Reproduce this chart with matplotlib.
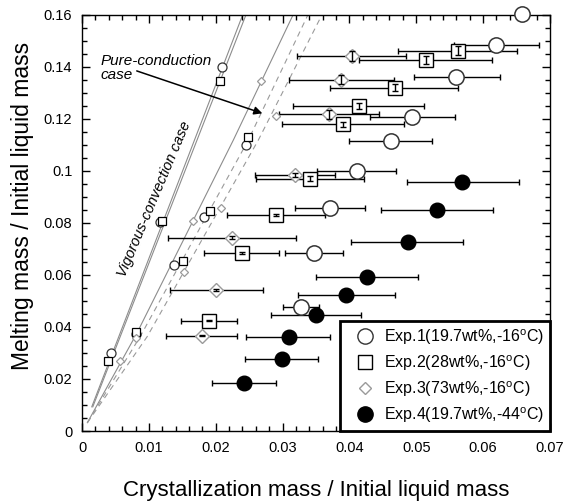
import matplotlib
matplotlib.use("Agg")
import matplotlib.pyplot as plt
from matplotlib.lines import Line2D
from matplotlib.ticker import MultipleLocator, FormatStrFormatter

plt.rcParams["font.family"] = ["Liberation Sans", "DejaVu Sans"]
plt.rcParams["mathtext.fontset"] = "custom"
plt.rcParams["mathtext.rm"] = "Liberation Sans"

# model curves
vig_a_x = [0.00145, 0.02404]
vig_a_y = [0.0093, 0.16]
vig_b_x = [0.00160, 0.02453]
vig_b_y = [0.0093, 0.16]
cond_x = [0.00079, 0.00818, 0.02263, 0.03160]
cond_y = [0.0032, 0.0375, 0.1118, 0.1601]
dash1_x = [0.00079, 0.00867, 0.02487, 0.0338]
dash1_y = [0.0032, 0.0362, 0.1118, 0.16]
dash2_x = [0.00079, 0.00972, 0.02637, 0.0359]
dash2_y = [0.0032, 0.0362, 0.1118, 0.16]

# small points lying on the curves
exp1_s_x = [0.0043, 0.0081, 0.0117, 0.0138, 0.0183, 0.0245, 0.0210]
exp1_s_y = [0.0301, 0.0371, 0.0802, 0.0637, 0.0821, 0.1101, 0.1400]
exp2_s_x = [0.0039, 0.0081, 0.0120, 0.0151, 0.0191, 0.0249, 0.0206]
exp2_s_y = [0.0270, 0.0381, 0.0807, 0.0653, 0.0846, 0.1131, 0.1346]
exp3_s_x = [0.0057, 0.0081, 0.0152, 0.0166, 0.0208, 0.0268, 0.0290]
exp3_s_y = [0.0269, 0.0356, 0.0610, 0.0807, 0.0859, 0.1346, 0.1211]

# measured points with error bars
exp1_x = [0.0659, 0.0620, 0.0560, 0.0494, 0.0462, 0.0411, 0.0371, 0.0347, 0.0328]
exp1_y = [0.1602, 0.1483, 0.1359, 0.1208, 0.1113, 0.0999, 0.0858, 0.0686, 0.0478]
exp1_xlo = [0.0659, 0.0557, 0.0496, 0.0431, 0.0400, 0.0352, 0.0318, 0.0303, 0.0301]
exp1_xhi = [0.0659, 0.0684, 0.0626, 0.0558, 0.0524, 0.0470, 0.0424, 0.0391, 0.0355]

exp2_x = [0.0562, 0.0514, 0.0468, 0.0414, 0.0390, 0.0341, 0.0290, 0.0239, 0.0190]
exp2_y = [0.1461, 0.1425, 0.1319, 0.1249, 0.1179, 0.0969, 0.0830, 0.0685, 0.0424]
exp2_xlo = [0.0472, 0.0415, 0.0371, 0.0315, 0.0299, 0.0260, 0.0217, 0.0183, 0.0148]
exp2_xhi = [0.0651, 0.0614, 0.0563, 0.0512, 0.0482, 0.0422, 0.0364, 0.0295, 0.0232]
exp2_yerr = [0.0017, 0.0015, 0.0013, 0.0010, 0.0010, 0.0010, 0.0005, 0.0003, 0.0002]

exp3_x = [0.0404, 0.0387, 0.0369, 0.0318, 0.0225, 0.0201, 0.0180]
exp3_y = [0.1441, 0.1351, 0.1217, 0.0983, 0.0743, 0.0542, 0.0366]
exp3_xlo = [0.0322, 0.0309, 0.0294, 0.0258, 0.0129, 0.0131, 0.0126]
exp3_xhi = [0.0485, 0.0466, 0.0445, 0.0379, 0.0320, 0.0271, 0.0232]
exp3_yerr = [0.0020, 0.0018, 0.0018, 0.0008, 0.0005, 0.0003, 0.0002]

exp4_x = [0.0569, 0.0531, 0.0487, 0.0427, 0.0395, 0.0350, 0.0309, 0.0299, 0.0242]
exp4_y = [0.0957, 0.0848, 0.0727, 0.0593, 0.0522, 0.0446, 0.0362, 0.0275, 0.0186]
exp4_xlo = [0.0486, 0.0448, 0.0402, 0.0350, 0.0323, 0.0283, 0.0245, 0.0244, 0.0195]
exp4_xhi = [0.0654, 0.0615, 0.0570, 0.0502, 0.0468, 0.0418, 0.0371, 0.0353, 0.0290]

labels = [r"Exp.1(19.7wt%,-16$^{\rm o}$C)", r"Exp.2(28wt%,-16$^{\rm o}$C)",
          r"Exp.3(73wt%,-16$^{\rm o}$C)", r"Exp.4(19.7wt%,-44$^{\rm o}$C)"]

GREY = "#8c8c8c"
DGREY = "#9a9a9a"

fig = plt.figure(figsize=(5.74, 5.04), dpi=100)
ax = fig.add_axes([0.143, 0.1448, 0.815, 0.826])

# curves
ax.plot(vig_a_x, vig_a_y, color=GREY, lw=0.8, zorder=1)
ax.plot(vig_b_x, vig_b_y, color=GREY, lw=0.8, zorder=1)
ax.plot(cond_x, cond_y, color=GREY, lw=0.8, zorder=1)
ax.plot(dash1_x, dash1_y, color=DGREY, lw=0.8, ls=(0, (5, 4)), zorder=1)
ax.plot(dash2_x, dash2_y, color=DGREY, lw=0.8, ls=(0, (5, 4)), zorder=1)

# small points on the curves
ax.plot(exp1_s_x, exp1_s_y, "o", ms=6.5, mfc="white", mec="#333333", mew=0.9, zorder=3)
ax.plot(exp2_s_x, exp2_s_y, "s", ms=6.3, mfc="white", mec="black", mew=0.9, zorder=3)
ax.plot(exp3_s_x, exp3_s_y, "D", ms=4.2, mfc="white", mec=DGREY, mew=0.9, zorder=3)


def hbars(x, y, lo, hi):
    err = [[a - b for a, b in zip(x, lo)], [b - a for a, b in zip(x, hi)]]
    ax.errorbar(x, y, xerr=err, fmt="none", ecolor="black", elinewidth=1.0,
                capsize=2.3, capthick=1.0, zorder=2)


hbars(exp1_x, exp1_y, exp1_xlo, exp1_xhi)
hbars(exp2_x, exp2_y, exp2_xlo, exp2_xhi)
hbars(exp3_x, exp3_y, exp3_xlo, exp3_xhi)
hbars(exp4_x, exp4_y, exp4_xlo, exp4_xhi)

ax.plot(exp1_x, exp1_y, "o", ms=11, mfc="white", mec="#333333", mew=1.1, zorder=3, clip_on=False)
ax.plot(exp2_x, exp2_y, "s", ms=9.6, mfc="white", mec="black", mew=1.0, zorder=3)
ax.plot(exp3_x, exp3_y, "D", ms=6.8, mfc="white", mec=DGREY, mew=1.0, zorder=3)
ax.plot(exp4_x, exp4_y, "o", ms=10.5, mfc="black", mec="black", zorder=3)

ax.errorbar(exp2_x, exp2_y, yerr=exp2_yerr, fmt="none", ecolor="black", elinewidth=1.0,
            capsize=2.2, capthick=1.0, zorder=4)
ax.errorbar(exp3_x, exp3_y, yerr=exp3_yerr, fmt="none", ecolor="black", elinewidth=1.0,
            capsize=2.2, capthick=1.0, zorder=4)

# annotations
ax.text(0.0027, 0.1395, "Pure-conduction\ncase", style="italic", fontsize=11,
        ha="left", va="center", linespacing=1.05)
ax.annotate("", xy=(0.02697, 0.1221), xytext=(0.00818, 0.1384),
            arrowprops=dict(arrowstyle="-|>", color="black", lw=1.1, mutation_scale=12,
                            shrinkA=0, shrinkB=0))
ax.text(0.01077, 0.0891, "Vigorous-convection case", style="italic", fontsize=10.5,
        rotation=67, rotation_mode="anchor", ha="center", va="center")

ax.set_xlim(0, 0.07)
ax.set_ylim(0, 0.16)
ax.xaxis.set_major_locator(MultipleLocator(0.01))
ax.xaxis.set_minor_locator(MultipleLocator(0.002))
ax.yaxis.set_major_locator(MultipleLocator(0.02))
ax.yaxis.set_minor_locator(MultipleLocator(0.005))
ax.xaxis.set_major_formatter(FormatStrFormatter("%g"))
ax.yaxis.set_major_formatter(FormatStrFormatter("%g"))
ax.tick_params(which="both", direction="in", top=True, right=True, width=1.0, labelsize=10.5)
ax.tick_params(which="major", length=5.5, pad=7)
ax.tick_params(which="minor", length=3.5)
for sp in ax.spines.values():
    sp.set_linewidth(1.0)

ax.set_xlabel("Crystallization mass / Initial liquid mass", fontsize=16, labelpad=18)
ax.set_ylabel("Melting mass / Initial liquid mass", fontsize=16.5)
ax.yaxis.set_label_coords(-0.103, 0.54)

handles = [
    Line2D([], [], ls="none", marker="o", ms=11, mfc="white", mec="#333333", mew=1.0),
    Line2D([], [], ls="none", marker="s", ms=10, mfc="white", mec="black", mew=1.0),
    Line2D([], [], ls="none", marker="D", ms=6.5, mfc="white", mec=DGREY, mew=1.0),
    Line2D([], [], ls="none", marker="o", ms=11, mfc="black", mec="black"),
]
leg = ax.legend(handles, labels, loc="lower right", borderaxespad=0, fontsize=11.5,
                fancybox=False, framealpha=1, edgecolor="black", handlelength=2.3,
                handletextpad=0.0, labelspacing=0.4, borderpad=0.4)
leg.get_frame().set_linewidth(2.0)
leg.set_zorder(5)

fig.savefig("out.png", dpi=100)
